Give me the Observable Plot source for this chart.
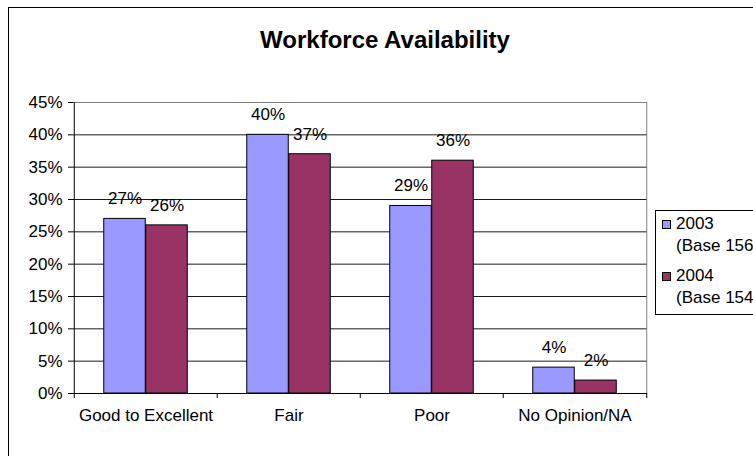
<!DOCTYPE html>
<html>
<head>
<meta charset="utf-8">
<script src="https://cdn.jsdelivr.net/npm/d3@7"></script>
<script src="https://cdn.jsdelivr.net/npm/@observablehq/plot@0.6"></script>
<style>
  html, body { margin: 0; padding: 0; background: #fff; overflow: hidden; width: 753px; height: 456px; }
  #wrap { position: relative; width: 753px; height: 456px; overflow: hidden; font-family: 'Liberation Sans', Arial, sans-serif; }
  #outer { position: absolute; left: 8px; top: 7px; width: 800px; height: 500px; border: 1px solid #000; box-sizing: border-box; }
  #title { position: absolute; left: 385px; top: 27px; transform: translateX(-50%); font-size: 24px; font-weight: bold; line-height: 26px; white-space: nowrap; color: #000; }
  #chart { position: absolute; left: 0; top: 0; }
  #legend { position: absolute; left: 655px; top: 210px; width: 140px; height: 105px; border: 1px solid #000; box-sizing: border-box; background: #fff; font-size: 17px; color: #000; }
  .item { position: absolute; left: 0; }
  .sw { position: absolute; left: 6px; width: 7px; height: 7px; border: 1px solid #000; }
  .lbl { position: absolute; left: 20px; white-space: nowrap; line-height: 22px; }
</style>
</head>
<body>
<div id="wrap">
  <div id="outer"></div>
  <div id="chart"></div>
  <div id="title"></div>
  <div id="legend"></div>
</div>
<script>
const titleText = "Workforce Availability";
const categories = ["Good to Excellent", "Fair", "Poor", "No Opinion/NA"];
const years = ["2003", "2004"];
const values2003 = [27, 40, 29, 4];
const values2004 = [26, 37, 36, 2];
const legendBases = ["(Base 156)", "(Base 154)"];
const yTicks = [0, 5, 10, 15, 20, 25, 30, 35, 40, 45];
const colors = ["#9999FF", "#993366"];

const W = 753, H = 456, mL = 73, mR = 106, mT = 102, mB = 63;
const bw = (W - mL - mR) / categories.length;
const barW = 42;

const d2003 = categories.map((c, i) => ({cat: c, year: years[0], value: values2003[i]}));
const d2004 = categories.map((c, i) => ({cat: c, year: years[1], value: values2004[i]}));
const gridVals = yTicks.filter(t => t > 0 && t < 45);

const chart = Plot.plot({
  width: W, height: H,
  marginLeft: mL, marginRight: mR, marginTop: mT, marginBottom: mB,
  style: {fontFamily: "'Liberation Sans', Arial, sans-serif", fontSize: "17px", color: "#000", background: "transparent"},
  x: {domain: categories, padding: 0, tickSize: 0, tickPadding: 15, label: null},
  y: {domain: [0, 45], ticks: yTicks, tickFormat: d => d + "%", tickSize: 5, tickPadding: 6, label: null},
  color: {domain: years, range: colors},
  marks: [
    Plot.ruleY(gridVals, {stroke: "#000", strokeOpacity: 0.9}),
    Plot.ruleY([45], {stroke: "#808080"}),
    Plot.ruleX([categories[categories.length - 1]], {dx: bw / 2, stroke: "#808080"}),
    Plot.barY(d2003, {x: "cat", y: "value", fill: "year", stroke: "#000", insetLeft: bw / 2 - barW, insetRight: bw / 2}),
    Plot.barY(d2004, {x: "cat", y: "value", fill: "year", stroke: "#000", insetLeft: bw / 2, insetRight: bw / 2 - barW}),
    Plot.text(d2003, {x: "cat", y: "value", text: d => d.value + "%", dx: -barW / 2, dy: -20, fontSize: 17, fill: "#000"}),
    Plot.text(d2004, {x: "cat", y: "value", text: d => d.value + "%", dx: barW / 2, dy: -20, fontSize: 17, fill: "#000"}),
    Plot.ruleX([categories[0]], {dx: -bw / 2, stroke: "#000"}),
    Plot.ruleY([0], {stroke: "#000"}),
    Plot.ruleX(categories, {x: d => d, y1: 0, y2: 0, dx: -bw / 2, insetTop: 5, stroke: "#000"}),
    Plot.ruleX([categories[categories.length - 1]], {x: d => d, y1: 0, y2: 0, dx: bw / 2, insetTop: 5, stroke: "#000"})
  ]
});
document.getElementById("chart").appendChild(chart);
document.getElementById("title").textContent = titleText;

const legend = document.getElementById("legend");
const itemTops = [2, 54];
years.forEach((y, i) => {
  const item = document.createElement("div");
  item.className = "item";
  item.style.top = itemTops[i] + "px";
  const sw = document.createElement("div");
  sw.className = "sw";
  sw.style.top = "7px";
  sw.style.background = colors[i];
  const l1 = document.createElement("div");
  l1.className = "lbl"; l1.style.top = "0px"; l1.textContent = y;
  const l2 = document.createElement("div");
  l2.className = "lbl"; l2.style.top = "22px"; l2.textContent = legendBases[i];
  item.append(sw, l1, l2);
  legend.appendChild(item);
});
</script>
</body>
</html>
